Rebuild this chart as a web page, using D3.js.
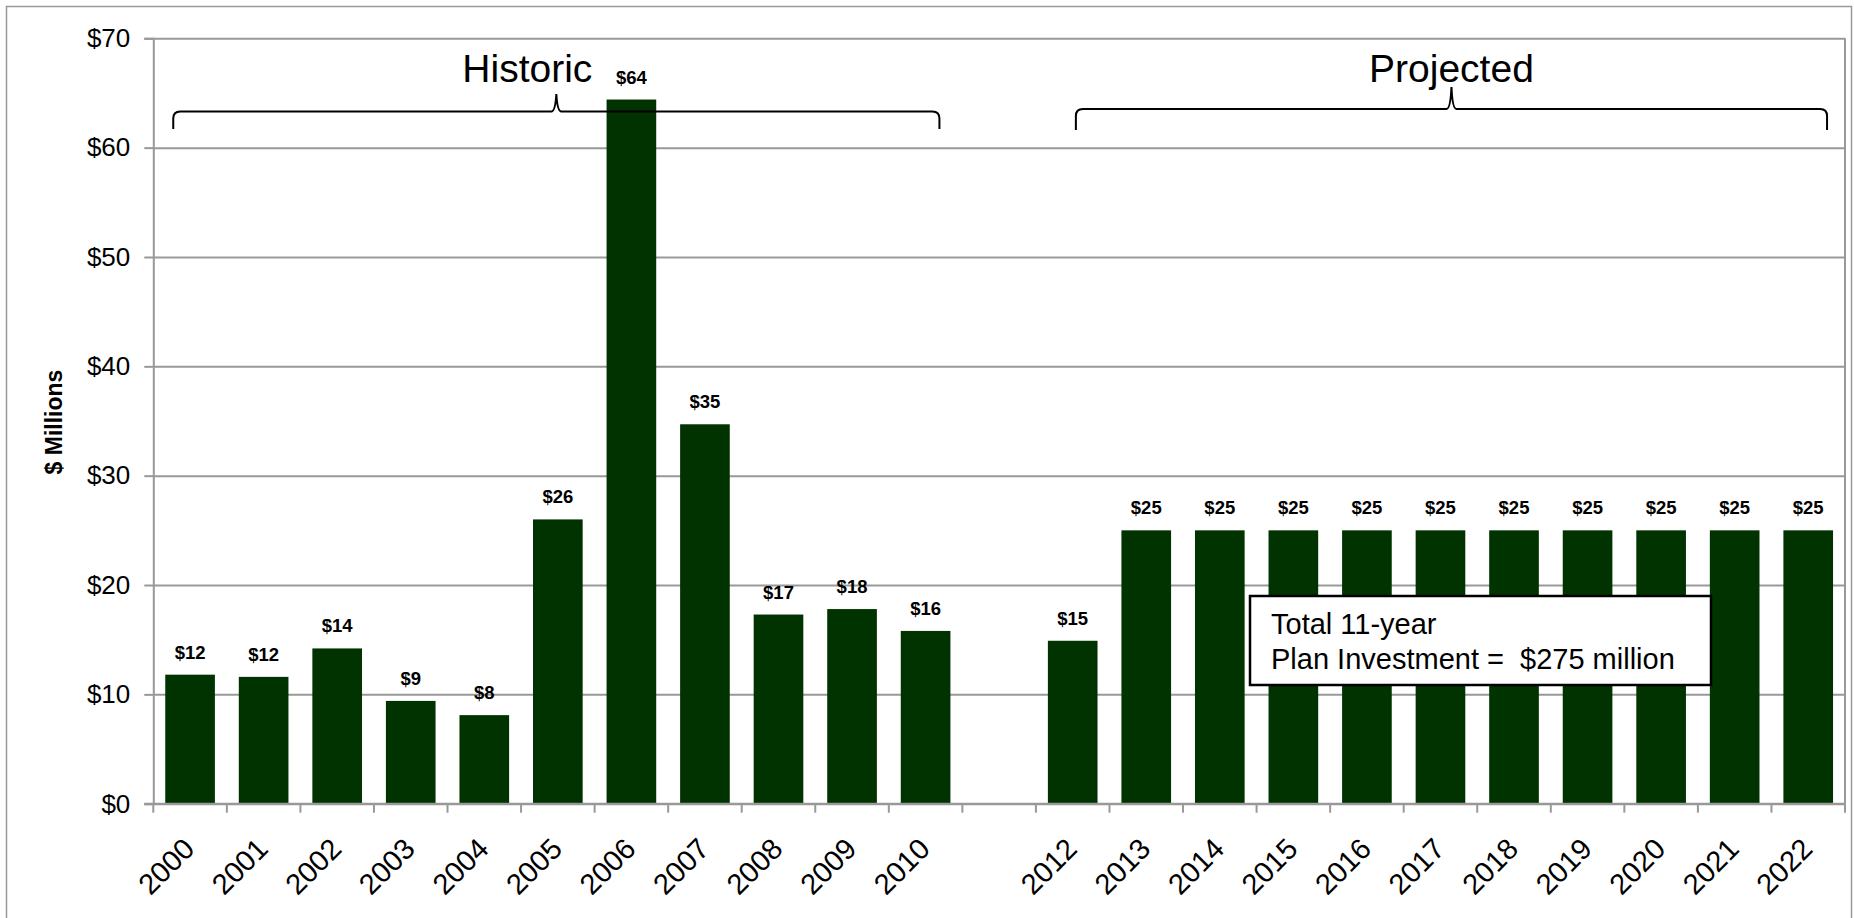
<!DOCTYPE html>
<html>
<head>
<meta charset="utf-8">
<script src="https://d3js.org/d3.v7.min.js"></script>
<style>
  body { margin: 0; background: #fff; }
  svg { display: block; font-family: "Liberation Sans", Arial, sans-serif; }
  .grid line { stroke: #999; stroke-width: 2; }
</style>
</head>
<body>
<script>
// investment by year, $ millions (2011 left blank in the source chart)
var years = ["2000", "2001", "2002", "2003", "2004", "2005", "2006", "2007", "2008", "2009", "2010",
             "2011",
             "2012", "2013", "2014", "2015", "2016", "2017", "2018", "2019", "2020", "2021", "2022"];
var investment = [11.8, 11.6, 14.2, 9.4, 8.1, 26.0, 64.4, 34.7, 17.3, 17.8, 15.8,
                  null,
                  14.9, 25, 25, 25, 25, 25, 25, 25, 25, 25, 25];
var valueLabels = ["$12", "$12", "$14", "$9", "$8", "$26", "$64", "$35", "$17", "$18", "$16",
                   "",
                   "$15", "$25", "$25", "$25", "$25", "$25", "$25", "$25", "$25", "$25", "$25"];
var yTicks = [0, 10, 20, 30, 40, 50, 60, 70];

var data = years.map(function(d, i) {
  return {year: d, value: investment[i], label: valueLabels[i]};
});

var W = 1854, H = 918;
var margin = {top: 38.3, right: 9, bottom: 114.3, left: 153.3},
    width = W - margin.left - margin.right,
    height = H - margin.top - margin.bottom;

var svg = d3.select("body").append("svg")
    .attr("width", W)
    .attr("height", H);

// outer chart border
svg.append("rect")
    .attr("x", 6.5).attr("y", 6.5)
    .attr("width", W - 9).attr("height", H + 20)
    .attr("fill", "none")
    .attr("stroke", "#999")
    .attr("stroke-width", 1.5);

var g = svg.append("g")
    .attr("transform", "translate(" + margin.left + "," + margin.top + ")");

var x = d3.scaleBand().domain(years).range([0, width])
    .paddingInner(0.325).paddingOuter(0.1625);
var y = d3.scaleLinear().domain([0, 70]).range([height, 0]);
var step = x.step();

// gridlines
g.append("g")
    .attr("class", "grid")
    .call(d3.axisLeft(y).tickValues(yTicks).tickSize(-width).tickFormat(""))
    .call(function(s) { s.select(".domain").remove(); });

// plot area frame (right side)
g.append("line")
    .attr("x1", width).attr("x2", width)
    .attr("y1", 0).attr("y2", height)
    .attr("stroke", "#999").attr("stroke-width", 2);

// bars
g.selectAll(".bar")
    .data(data.filter(function(d) { return d.value != null; }))
    .enter().append("rect")
    .attr("class", "bar")
    .attr("x", function(d) { return x(d.year); })
    .attr("width", x.bandwidth())
    .attr("y", function(d) { return y(d.value); })
    .attr("height", function(d) { return height - y(d.value); })
    .attr("fill", "#003300");

// value labels
g.selectAll(".vlabel")
    .data(data.filter(function(d) { return d.value != null; }))
    .enter().append("text")
    .attr("class", "vlabel")
    .attr("x", function(d) { return x(d.year) + x.bandwidth() / 2; })
    .attr("y", function(d) { return y(d.value) - 16; })
    .attr("text-anchor", "middle")
    .style("font-size", "18.5px")
    .style("font-weight", "bold")
    .text(function(d) { return d.label; });

// y axis
var yAxis = g.append("g")
    .call(d3.axisLeft(y).tickValues(yTicks).tickSize(9).tickPadding(14)
      .tickFormat(function(d) { return "$" + d; }));
yAxis.select(".domain").attr("stroke", "#999").attr("stroke-width", 2);
yAxis.selectAll(".tick line").attr("stroke", "#999").attr("stroke-width", 2);
yAxis.selectAll("text").style("font-size", "26px").attr("fill", "#000");

// x axis: baseline, boundary ticks, rotated year labels
g.append("line")
    .attr("x1", -9).attr("x2", width)
    .attr("y1", height).attr("y2", height)
    .attr("stroke", "#999").attr("stroke-width", 2);

g.selectAll(".xtick")
    .data(years.concat(["end"]))
    .enter().append("line")
    .attr("class", "xtick")
    .attr("x1", function(d, i) { return i * step; })
    .attr("x2", function(d, i) { return i * step; })
    .attr("y1", height).attr("y2", height + 9)
    .attr("stroke", "#999").attr("stroke-width", 2);

g.selectAll(".xlabel")
    .data(data.filter(function(d) { return d.value != null; }))
    .enter().append("text")
    .attr("class", "xlabel")
    .attr("text-anchor", "end")
    .attr("transform", function(d) {
      return "translate(" + (x(d.year) + x.bandwidth() / 2 + 6) + "," + (height + 47) + ") rotate(-45)";
    })
    .style("font-size", "29px")
    .text(function(d) { return d.year; });

// y axis title
svg.append("text")
    .attr("transform", "translate(62," + 422 + ") rotate(-90)")
    .attr("text-anchor", "middle")
    .style("font-size", "23px")
    .style("font-weight", "bold")
    .text("$ Millions");

// braces over the two periods
function brace(x0, x1, xm, yh, yt, yb) {
  var r = 7;
  return "M" + x0 + "," + yb +
    " L" + x0 + "," + (yh + r) +
    " Q" + x0 + "," + yh + " " + (x0 + r) + "," + yh +
    " L" + (xm - 5) + "," + yh +
    " Q" + (xm - 1) + "," + yh + " " + xm + "," + yt +
    " Q" + (xm + 1) + "," + yh + " " + (xm + 5) + "," + yh +
    " L" + (x1 - r) + "," + yh +
    " Q" + x1 + "," + yh + " " + x1 + "," + (yh + r) +
    " L" + x1 + "," + yb;
}

var hx0 = x("2000") + 8,
    hx1 = x("2010") + x.bandwidth() - 11;
var px0 = x("2012") + 28,
    px1 = x("2022") + x.bandwidth() - 6;

g.append("path")
    .attr("d", brace(hx0, hx1, (hx0 + hx1) / 2, 111.5 - margin.top, 94 - margin.top, 129 - margin.top))
    .attr("fill", "none").attr("stroke", "#000").attr("stroke-width", 2);
g.append("path")
    .attr("d", brace(px0, px1, (px0 + px1) / 2, 109 - margin.top, 87 - margin.top, 130 - margin.top))
    .attr("fill", "none").attr("stroke", "#000").attr("stroke-width", 2);

g.append("text")
    .attr("x", (hx0 + hx1) / 2 - 29)
    .attr("y", 82 - margin.top)
    .attr("text-anchor", "middle")
    .style("font-size", "39px")
    .text("Historic");
g.append("text")
    .attr("x", (px0 + px1) / 2)
    .attr("y", 82 - margin.top)
    .attr("text-anchor", "middle")
    .style("font-size", "39px")
    .text("Projected");

// total investment note
var note = svg.append("g").attr("transform", "translate(1250,596)");
note.append("rect")
    .attr("width", 461).attr("height", 89)
    .attr("fill", "#fff")
    .attr("stroke", "#000").attr("stroke-width", 2.5);
note.append("text")
    .attr("x", 21).attr("y", 38)
    .style("font-size", "29px")
    .text("Total 11-year");
note.append("text")
    .attr("x", 21).attr("y", 73)
    .style("font-size", "29px")
    .style("white-space", "pre")
    .text("Plan Investment =  $275 million");
</script>
</body>
</html>
